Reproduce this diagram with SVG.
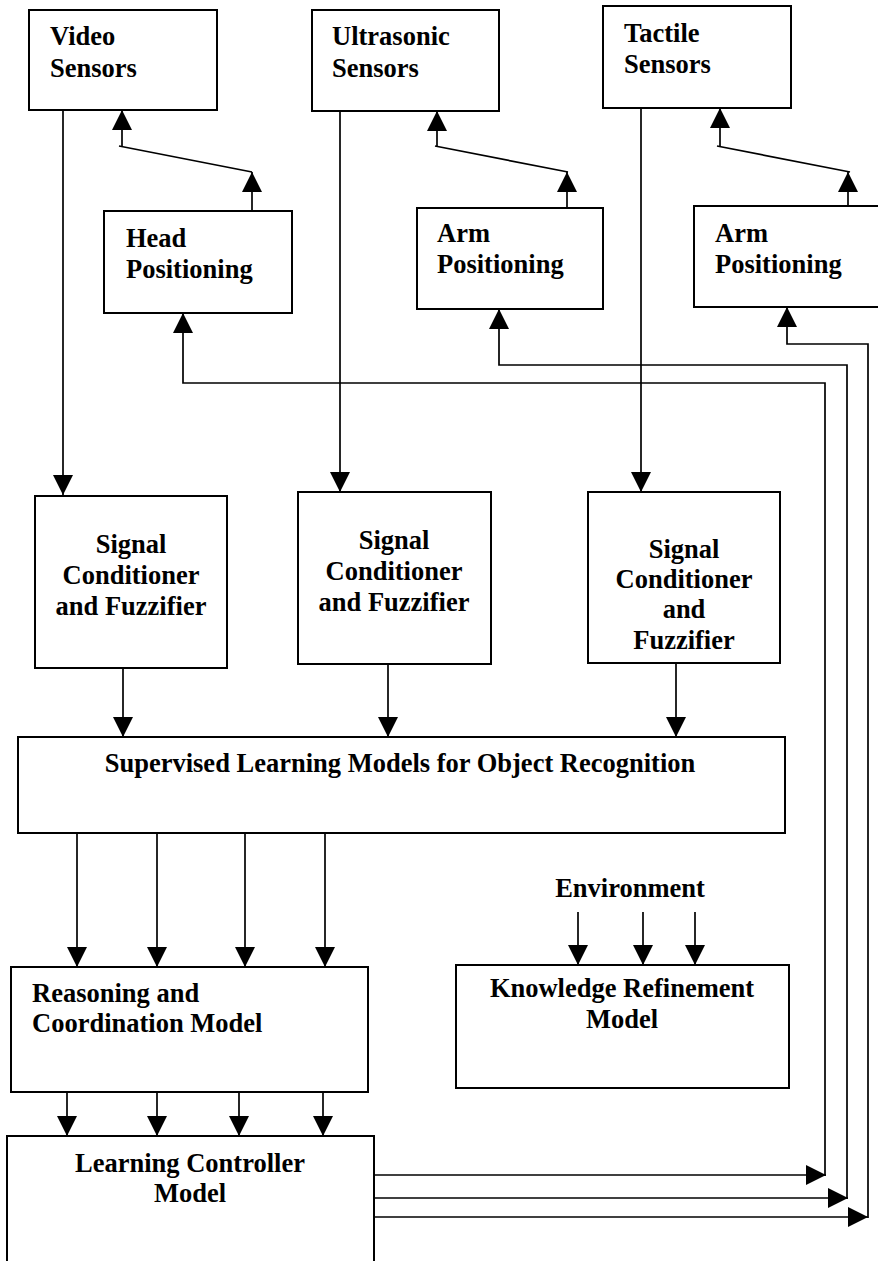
<svg xmlns="http://www.w3.org/2000/svg" width="878" height="1261" viewBox="0 0 878 1261">
<style>
.box{fill:#fff;stroke:#000;stroke-width:2}
.ln{fill:none;stroke:#000;stroke-width:1.7}
.arr{fill:none;stroke:#000;stroke-width:1.7;marker-end:url(#ah)}
text{font-family:"Liberation Serif","Times New Roman",serif;font-weight:bold;font-size:26.5px;fill:#000}
.c{text-anchor:middle}
</style>
<defs>
<marker id="ah" markerUnits="userSpaceOnUse" markerWidth="20" markerHeight="20" refX="20" refY="10" orient="auto">
<path d="M0,0 L20,10 L0,20 z" fill="#000"/>
</marker>
</defs>
<rect width="878" height="1261" fill="#fff"/>
<g id="connectors">
<line class="arr" x1="63" y1="110" x2="63" y2="495"/>
<line class="arr" x1="340" y1="111" x2="340" y2="492"/>
<line class="arr" x1="641" y1="108" x2="641" y2="492"/>
<line class="arr" x1="252" y1="211" x2="252" y2="172"/>
<line class="ln" x1="119" y1="146" x2="252" y2="172"/>
<line class="arr" x1="122" y1="146" x2="122" y2="110"/>
<line class="arr" x1="567" y1="208" x2="567" y2="172"/>
<line class="ln" x1="435" y1="146" x2="568" y2="172"/>
<line class="arr" x1="437" y1="146" x2="437" y2="111"/>
<line class="arr" x1="848" y1="206" x2="848" y2="172"/>
<line class="ln" x1="717" y1="146" x2="850" y2="172"/>
<line class="arr" x1="720" y1="146" x2="720" y2="108"/>
<line class="arr" x1="374" y1="1175" x2="826" y2="1175"/>
<line class="arr" x1="374" y1="1198" x2="848" y2="1198"/>
<line class="arr" x1="374" y1="1217" x2="868" y2="1217"/>
<path class="arr" d="M825,1176 V383 H183 V313"/>
<path class="arr" d="M847,1199 V365 H499 V309"/>
<path class="arr" d="M868,1218 V344 H787 V307"/>
<line class="arr" x1="123" y1="668" x2="123" y2="737"/>
<line class="arr" x1="388" y1="664" x2="388" y2="737"/>
<line class="arr" x1="676" y1="663" x2="676" y2="737"/>
<line class="arr" x1="77" y1="833" x2="77" y2="967"/>
<line class="arr" x1="157" y1="833" x2="157" y2="967"/>
<line class="arr" x1="245" y1="833" x2="245" y2="967"/>
<line class="arr" x1="325" y1="833" x2="325" y2="967"/>
<line class="arr" x1="67" y1="1092" x2="67" y2="1136"/>
<line class="arr" x1="157" y1="1092" x2="157" y2="1136"/>
<line class="arr" x1="239" y1="1092" x2="239" y2="1136"/>
<line class="arr" x1="323" y1="1087" x2="323" y2="1136"/>
<line class="arr" x1="578" y1="912" x2="578" y2="965"/>
<line class="arr" x1="643" y1="912" x2="643" y2="965"/>
<line class="arr" x1="695" y1="912" x2="695" y2="965"/>
</g>
<g id="video"><rect class="box" x="29" y="10" width="188" height="100"/><text x="50" y="45">Video</text><text x="50" y="77">Sensors</text></g>
<g id="ultrasonic"><rect class="box" x="312" y="10" width="187" height="101"/><text x="332" y="45">Ultrasonic</text><text x="332" y="77">Sensors</text></g>
<g id="tactile"><rect class="box" x="603" y="6" width="188" height="102"/><text x="624" y="42">Tactile</text><text x="624" y="73">Sensors</text></g>
<g id="head"><rect class="box" x="104" y="211" width="188" height="102"/><text x="126" y="247">Head</text><text x="126" y="278">Positioning</text></g>
<g id="arm1"><rect class="box" x="417" y="208" width="186" height="101"/><text x="437" y="242">Arm</text><text x="437" y="273">Positioning</text></g>
<g id="arm2"><rect class="box" x="694" y="206" width="190" height="101"/><text x="715" y="242">Arm</text><text x="715" y="273">Positioning</text></g>
<g id="sig1"><rect class="box" x="35" y="496" width="192" height="172"/><text class="c" x="131" y="553">Signal</text><text class="c" x="131" y="584">Conditioner</text><text class="c" x="131" y="615">and Fuzzifier</text></g>
<g id="sig2"><rect class="box" x="298" y="492" width="193" height="172"/><text class="c" x="394" y="549">Signal</text><text class="c" x="394" y="580">Conditioner</text><text class="c" x="394" y="611">and Fuzzifier</text></g>
<g id="sig3"><rect class="box" x="588" y="492" width="192" height="171"/><text class="c" x="684" y="558">Signal</text><text class="c" x="684" y="588">Conditioner</text><text class="c" x="684" y="618">and</text><text class="c" x="684" y="649">Fuzzifier</text></g>
<g id="supervised"><rect class="box" x="18" y="737" width="767" height="96"/><text class="c" x="400" y="772">Supervised Learning Models for Object Recognition</text></g>
<g id="environment"><text class="c" x="630" y="897">Environment</text></g>
<g id="reasoning"><rect class="box" x="11" y="967" width="357" height="125"/><text x="32" y="1002">Reasoning and</text><text x="32" y="1032">Coordination Model</text></g>
<g id="knowledge"><rect class="box" x="456" y="965" width="333" height="123"/><text class="c" x="622" y="997">Knowledge Refinement</text><text class="c" x="622" y="1028">Model</text></g>
<g id="learning"><rect class="box" x="7" y="1136" width="367" height="130"/><text class="c" x="190" y="1172">Learning Controller</text><text class="c" x="190" y="1202">Model</text></g>
</svg>
